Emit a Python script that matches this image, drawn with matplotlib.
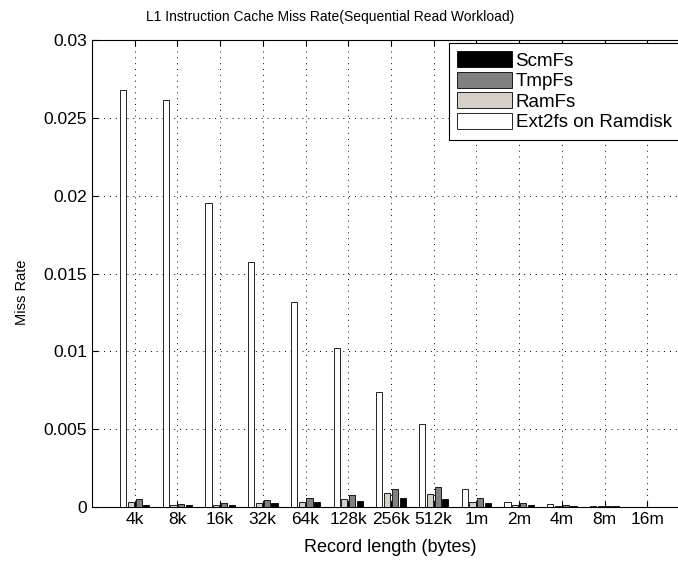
import numpy as np
import matplotlib
matplotlib.use('Agg')
from matplotlib import pyplot as plt

plt.rcParams['font.family'] = ['Liberation Sans', 'DejaVu Sans']

labels = ['4k', '8k', '16k', '32k', '64k', '128k', '256k', '512k', '1m', '2m', '4m', '8m', '16m']
ext2fs = [0.0268, 0.02615, 0.0195, 0.01574, 0.01317, 0.0102, 0.0074, 0.0053, 0.00114, 0.00034, 0.0002, 0.00008, 0.00003]
ramfs = [0.00034, 0.00015, 0.00015, 0.00026, 0.00032, 0.00054, 0.00088, 0.00083, 0.00034, 0.00013, 0.00008, 0.00004, 0.00002]
tmpfs = [0.00053, 0.0002, 0.00026, 0.00043, 0.00056, 0.00077, 0.00116, 0.00127, 0.0006, 0.00026, 0.00012, 0.00008, 0.00002]
scmfs = [0.00012, 0.0001, 0.00012, 0.00026, 0.0003, 0.0004, 0.00056, 0.00054, 0.00024, 0.00015, 0.00008, 0.00004, 0.00002]

series = [ext2fs, ramfs, tmpfs, scmfs]
names = ['Ext2fs on Ramdisk', 'RamFs', 'TmpFs', 'ScmFs']
colors = ['white', '#d4d0c8', '#808080', 'black']

W, H = 678, 561
fig = plt.figure(figsize=(6.78, 5.61), dpi=100)
# axes runs past the right edge, as in the cropped original
ax = fig.add_axes([92 / W, 54 / H, 598 / W, 467 / H])

x = np.arange(1, len(labels) + 1)
step = 0.182
bars = []
for i, (vals, c) in enumerate(zip(series, colors)):
    b = ax.bar(x + (i - 1.5) * step, vals, width=0.145, color=c,
               edgecolor='black', linewidth=0.6, zorder=3)
    bars.append(b)

ax.set_xlim(0, 14)
ax.set_ylim(0, 0.03)
ax.set_xticks(x)
ax.set_xticklabels(labels)
ax.set_yticks([0, 0.005, 0.01, 0.015, 0.02, 0.025, 0.03])
ax.set_yticklabels(['0', '0.005', '0.01', '0.015', '0.02', '0.025', '0.03'])
ax.tick_params(direction='in', labelsize=12.5, length=4, top=True, right=True)
ax.grid(True, linestyle=(0, (1, 5)), color='black', linewidth=0.7, zorder=0)

fig.text(390 / W, 1 - 548 / H, 'Record length (bytes)', fontsize=13, ha='center', va='center')
fig.text(22 / W, 1 - 292 / H, 'Miss Rate', fontsize=10.5, rotation=90, ha='center', va='center')
fig.text(330 / W, 1 - 17 / H, 'L1 Instruction Cache Miss Rate(Sequential Read Workload)',
         fontsize=10, ha='center', va='center')

leg = ax.legend(bars[::-1], names[::-1], loc='upper left',
                bbox_to_anchor=(449 / W, 1 - 43 / H), bbox_transform=fig.transFigure,
                borderaxespad=0, fontsize=13.5, fancybox=False, edgecolor='black', framealpha=1,
                handlelength=2.9, handleheight=0.9, labelspacing=0.12,
                borderpad=0.45, handletextpad=0.2)
leg.get_frame().set_linewidth(0.8)

plt.savefig('out.png', dpi=100)
